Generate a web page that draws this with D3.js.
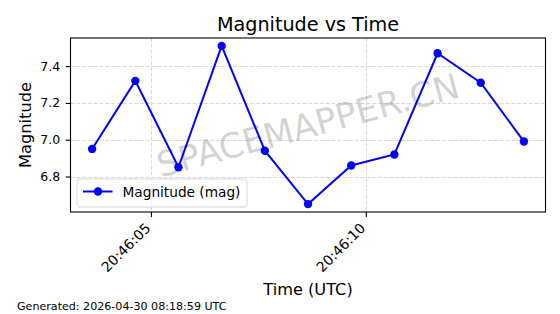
<!DOCTYPE html>
<html>
<head>
<meta charset="utf-8">
<script src="https://cdn.jsdelivr.net/npm/d3@7"></script>
<style>
  html, body { margin: 0; padding: 0; background: #fff; }
  svg { display: block; font-family: "DejaVu Sans", sans-serif; }
</style>
</head>
<body>
<svg id="chart" width="560" height="314"></svg>
<script>
const times = [
    "2026-04-29T20:46:03.632Z", "2026-04-29T20:46:04.637Z", "2026-04-29T20:46:05.641Z",
    "2026-04-29T20:46:06.646Z", "2026-04-29T20:46:07.650Z", "2026-04-29T20:46:08.655Z",
    "2026-04-29T20:46:09.660Z", "2026-04-29T20:46:10.664Z", "2026-04-29T20:46:11.669Z",
    "2026-04-29T20:46:12.673Z", "2026-04-29T20:46:13.678Z"
];
const magnitudes = [6.95, 7.32, 6.85, 7.51, 6.94, 6.65, 6.86, 6.92, 7.47, 7.31, 6.99];
const xTicks = ["2026-04-29T20:46:05Z", "2026-04-29T20:46:10Z"];
const yTicks = [6.8, 7.0, 7.2, 7.4];

const title = "Magnitude vs Time";
const xLabel = "Time (UTC)";
const yLabel = "Magnitude";
const seriesName = "Magnitude (mag)";
const footer = "Generated: 2026-04-30 08:18:59 UTC";
const watermark = "SPACEMAPPER.CN";

const svg = d3.select("#chart");
const m = { left: 70.5, top: 38, width: 475, height: 174 };

const data = times.map((t, i) => ({ t: new Date(t), v: magnitudes[i] }));

// matplotlib style 5% margins
function padded(ext) {
    const p = (ext[1] - ext[0]) * 0.05;
    return [ext[0] - p, ext[1] + p];
}
const tExt = d3.extent(data, d => +d.t);
const x = d3.scaleUtc()
    .domain(padded(tExt).map(v => new Date(v)))
    .range([m.left, m.left + m.width]);
const y = d3.scaleLinear()
    .domain(padded(d3.extent(magnitudes)))
    .range([m.top + m.height, m.top]);

const xTickDates = xTicks.map(t => new Date(t));

// grid
const grid = svg.append("g")
    .attr("stroke", "#cfcfcf")
    .attr("stroke-width", 0.8)
    .attr("stroke-dasharray", "4,1.8");
grid.selectAll(".gx").data(xTickDates).join("line")
    .attr("x1", d => Math.round(x(d)) + 0.5).attr("x2", d => Math.round(x(d)) + 0.5)
    .attr("y1", m.top).attr("y2", m.top + m.height);
grid.selectAll(".gy").data(yTicks).join("line")
    .attr("x1", m.left).attr("x2", m.left + m.width)
    .attr("y1", d => Math.round(y(d)) + 0.5).attr("y2", d => Math.round(y(d)) + 0.5);

// watermark
svg.append("text")
    .attr("transform", `translate(${m.left + m.width / 2},${m.top + m.height / 2}) rotate(-15)`)
    .attr("text-anchor", "middle")
    .attr("dy", "0.36em")
    .attr("font-size", 34.7)
    .attr("fill", "#808080")
    .attr("fill-opacity", 0.35)
    .text(watermark);

// line + markers
svg.append("path")
    .datum(data)
    .attr("fill", "none")
    .attr("stroke", "#0000ff")
    .attr("stroke-width", 2)
    .attr("d", d3.line().x(d => x(d.t)).y(d => y(d.v)));
svg.append("g").selectAll("circle").data(data).join("circle")
    .attr("cx", d => x(d.t)).attr("cy", d => y(d.v))
    .attr("r", 4.2)
    .attr("fill", "#0000ff");

// axes
const xAxis = svg.append("g")
    .attr("transform", `translate(0,${m.top + m.height})`)
    .call(d3.axisBottom(x).tickValues(xTickDates).tickSize(4.9).tickPadding(0)
        .tickFormat(d3.utcFormat("%H:%M:%S")))
    .attr("font-family", "DejaVu Sans");
xAxis.select(".domain").remove();
xAxis.selectAll("line").attr("stroke-width", 1.1);
xAxis.selectAll("text")
    .attr("font-size", 13.9)
    .attr("fill", "#000")
    .attr("text-anchor", "end")
    .attr("y", 0).attr("dy", 0)
    .attr("transform", "translate(0,17) rotate(-45)");

const yAxis = svg.append("g")
    .attr("transform", `translate(${m.left},0)`)
    .call(d3.axisLeft(y).tickValues(yTicks).tickSize(4.9).tickPadding(5.5)
        .tickFormat(d3.format(".1f")))
    .attr("font-family", "DejaVu Sans");
yAxis.select(".domain").remove();
yAxis.selectAll("line").attr("stroke-width", 1.1);
yAxis.selectAll("text").attr("font-size", 12.5).attr("fill", "#000");

// frame
svg.append("rect")
    .attr("x", m.left).attr("y", m.top)
    .attr("width", m.width).attr("height", m.height)
    .attr("fill", "none")
    .attr("stroke", "#000")
    .attr("stroke-width", 1.1);

// legend
const lg = svg.append("g").attr("transform", "translate(77,179)");
lg.append("rect")
    .attr("width", 170).attr("height", 28).attr("rx", 2.5)
    .attr("fill", "#fff").attr("fill-opacity", 0.8)
    .attr("stroke", "#d6d6d6").attr("stroke-width", 1);
lg.append("line")
    .attr("x1", 6).attr("x2", 35.5).attr("y1", 12.5).attr("y2", 12.5)
    .attr("stroke", "#0000ff").attr("stroke-width", 2);
lg.append("circle").attr("cx", 21).attr("cy", 12.5).attr("r", 4.2).attr("fill", "#0000ff");
lg.append("text")
    .attr("x", 45.5).attr("y", 17.5)
    .attr("font-size", 13.7)
    .text(seriesName);

// titles
svg.append("text")
    .attr("x", m.left + m.width / 2).attr("y", 31)
    .attr("text-anchor", "middle")
    .attr("font-size", 19.2)
    .text(title);
svg.append("text")
    .attr("x", m.left + m.width / 2).attr("y", 295)
    .attr("text-anchor", "middle")
    .attr("font-size", 16.2)
    .text(xLabel);
svg.append("text")
    .attr("transform", `translate(31,${m.top + m.height / 2}) rotate(-90)`)
    .attr("text-anchor", "middle")
    .attr("font-size", 16.2)
    .text(yLabel);
svg.append("text")
    .attr("x", 17).attr("y", 310)
    .attr("font-size", 11.1)
    .text(footer);
</script>
</body>
</html>
